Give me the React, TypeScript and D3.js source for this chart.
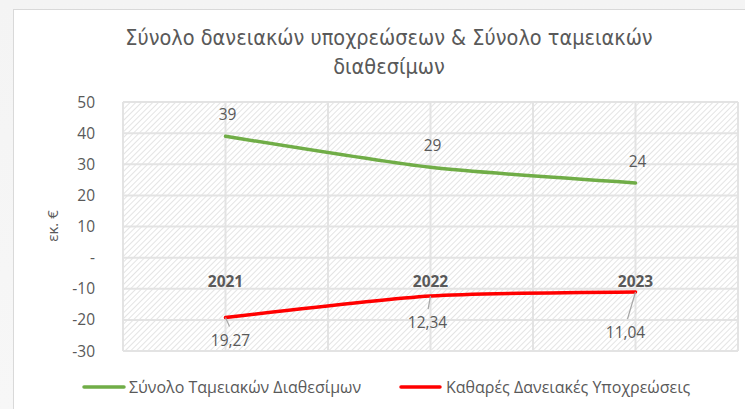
import React from "react";
import * as d3 from "d3";

const categories = ["2021", "2022", "2023"];
const cashValues = [39, 29, 24];
const debtValues = [-19.27, -12.34, -11.04];
const debtLabels = ["19,27", "12,34", "11,04"];
const yTicks = [50, 40, 30, 20, 10, 0, -10, -20, -30];
const seriesNames = ["Σύνολο Ταμειακών Διαθεσίμων", "Καθαρές Δανειακές Υποχρεώσεις"];
const titleLines = ["Σύνολο δανειακών υποχρεώσεων & Σύνολο ταμειακών", "διαθεσίμων"];

const W = 745, H = 409;
const plot = { left: 123, right: 738, top: 102, bottom: 351 };
const textColor = "#595959";
const font = "'Open Sans', 'Noto Sans', sans-serif";

export default function App() {
  const x = d3.scaleBand().domain(categories).range([plot.left, plot.right]);
  const y = d3.scaleLinear().domain([-30, 50]).range([plot.bottom, plot.top]);
  const cx = (c: string) => (x(c) as number) + x.bandwidth() / 2;
  const line = d3.line<number>()
    .x((_, i) => cx(categories[i]))
    .y((v) => y(v))
    .curve(d3.curveCardinal.tension(0.35));

  const vGrid: number[] = [];
  categories.forEach((c) => {
    vGrid.push(x(c) as number);
    vGrid.push(cx(c));
  });
  vGrid.push(plot.right);

  const debtOffsets = [[5, 28], [-3, 32], [-10, 46]];
  const cashOffsets = [[2, -16], [2, -16], [2, -16]];

  return (
    <svg width={W} height={H} style={{ position: "absolute", left: 0, top: 0 }}>
      <defs>
        <linearGradient id="bg" x1="0" y1="0" x2="0" y2="1">
          <stop offset="0" stopColor="#f4f4f4" />
          <stop offset="1" stopColor="#f7f7f7" />
        </linearGradient>
        <pattern id="hatch" width="4" height="4" patternUnits="userSpaceOnUse" patternTransform="rotate(45)">
          <rect width="4" height="4" fill="#ffffff" />
          <line x1="0" y1="0" x2="0" y2="4" stroke="#d2d2d2" strokeWidth="1.2" />
        </pattern>
      </defs>
      <rect x={0} y={0} width={W} height={H} fill="url(#bg)" />
      <rect x={13.5} y={9.5} width={W} height={H} fill="#ffffff" stroke="#d9d9d9" strokeWidth={1} />

      {titleLines.map((t, i) => (
        <text key={i} x={389} y={45 + i * 29} textAnchor="middle" fontSize={21.5}
          fontFamily="'DejaVu Sans Condensed', sans-serif" fontWeight={300}
          fill={textColor}>{t}</text>
      ))}

      <rect x={plot.left} y={plot.top} width={plot.right - plot.left} height={plot.bottom - plot.top} fill="url(#hatch)" />
      {yTicks.map((t) => (
        <line key={"h" + t} x1={plot.left} x2={plot.right} y1={y(t)} y2={y(t)} stroke="#e3e3e3" strokeWidth={2} />
      ))}
      {vGrid.map((gx, i) => (
        <line key={"v" + i} x1={gx} x2={gx} y1={plot.top} y2={plot.bottom} stroke="#e3e3e3" strokeWidth={2} />
      ))}

      {yTicks.map((t) => (
        <text key={"t" + t} x={95} y={y(t) + 5.5} textAnchor="end" fontSize={15.5} fontFamily={font} fill={textColor}>
          {t === 0 ? "-" : String(t)}
        </text>
      ))}
      <text transform={`translate(58,226) rotate(-90)`} textAnchor="middle" fontSize={15} fontFamily={font} fill={textColor}>εκ. €</text>

      {categories.map((c) => (
        <text key={"c" + c} x={cx(c)} y={y(0) + 29} textAnchor="middle" fontSize={15.5} fontWeight="bold" fontFamily={font} fill={textColor}>{c}</text>
      ))}

      <path d={line(cashValues) || ""} fill="none" stroke="#70ad47" strokeWidth={3.5} strokeLinecap="round" />
      <path d={line(debtValues) || ""} fill="none" stroke="#ff0000" strokeWidth={3.5} strokeLinecap="round" />

      {cashValues.map((v, i) => (
        <text key={"cl" + i} x={cx(categories[i]) + cashOffsets[i][0]} y={y(v) + cashOffsets[i][1]} textAnchor="middle" fontSize={15.5} fontFamily={font} fill={textColor}>{v}</text>
      ))}
      {debtValues.map((v, i) => {
        const px = cx(categories[i]);
        const py = y(v);
        const lx = px + debtOffsets[i][0];
        const ly = py + debtOffsets[i][1];
        return (
          <g key={"dl" + i}>
            <line x1={px} y1={py} x2={lx - debtOffsets[i][0] * 0.2} y2={ly - 19} stroke="#a6a6a6" strokeWidth={1.2} />
            <text x={lx} y={ly} textAnchor="middle" fontSize={15.5} fontFamily={font} fill={textColor}>{debtLabels[i]}</text>
          </g>
        );
      })}

      <line x1={84} x2={124} y1={387} y2={387} stroke="#70ad47" strokeWidth={3.5} strokeLinecap="round" />
      <text x={129} y={392.5} fontSize={16} fontFamily={font} fill={textColor}>{seriesNames[0]}</text>
      <line x1={401} x2={440} y1={387} y2={387} stroke="#ff0000" strokeWidth={3.5} strokeLinecap="round" />
      <text x={446} y={392.5} fontSize={16} fontFamily={font} fill={textColor}>{seriesNames[1]}</text>
    </svg>
  );
}
